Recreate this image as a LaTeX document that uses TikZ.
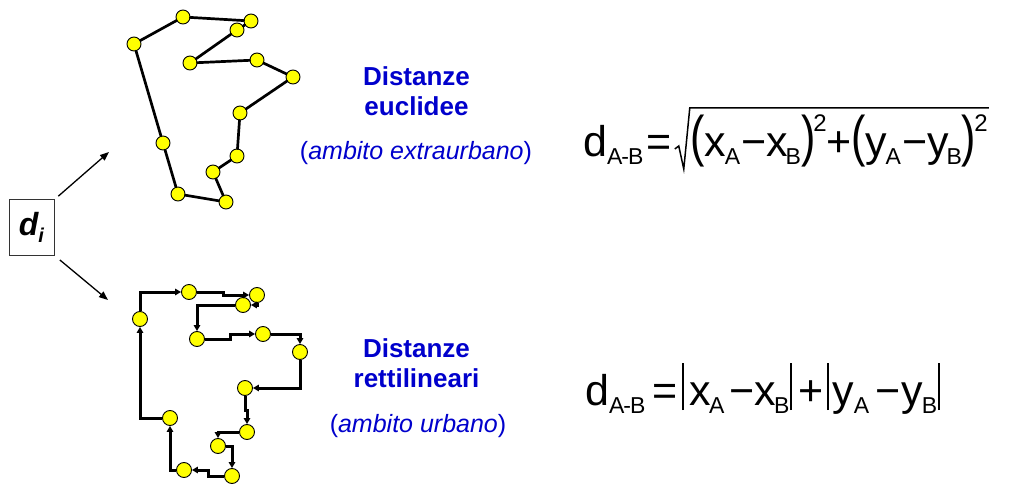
\documentclass[tikz,border=0pt]{standalone}
\usepackage{fontspec}
\setmainfont{Liberation Sans}
\usepackage{graphicx}
\usetikzlibrary{arrows.meta,positioning,calc}
\definecolor{LabelBlue}{HTML}{0000CC}
\definecolor{TownYellow}{HTML}{FFFF00}
\definecolor{BoxGrey}{HTML}{333333}
\newcommand{\fsub}[1]{\raisebox{-8pt}{\fontsize{23}{23}\selectfont #1}}
\newcommand{\fsup}[1]{\raisebox{25pt}{\fontsize{24}{24}\selectfont #1}}
\newcommand{\fpar}[1]{\raisebox{1pt}{\scalebox{1}[1.3]{#1}}}
\newcommand{\fbar}{\rule[-5pt]{2pt}{47pt}}
\tikzset{
    % yellow stops of the two tours
    town/.style={
        circle,
        draw=black,
        line width=0.9pt,
        fill=TownYellow,
        minimum size=14pt,
        inner sep=0pt
    },
    town big/.style={
        town,
        minimum size=15pt
    },
    euclid link/.style={
        line width=2.7pt,
        line join=round,
        line cap=round
    },
    grid link/.style={
        -{Triangle[length=6pt,width=6.5pt]},
        line width=3pt
    },
    split arrow/.style={
        -{Triangle[length=9pt,width=7pt]},
        line width=1.3pt
    },
    kind box/.style={
        rectangle,
        draw=BoxGrey,
        line width=1pt,
        minimum width=45pt,
        minimum height=55pt,
        inner sep=0pt
    },
    kind title/.style={
        font=\fontsize{26}{30}\selectfont\bfseries,
        text=LabelBlue,
        align=center,
        inner sep=0pt
    },
    kind note/.style={
        font=\fontsize{25}{30}\selectfont,
        text=LabelBlue,
        inner sep=0pt,
        anchor=base
    },
    formula/.style={
        font=\fontsize{43}{48}\selectfont,
        inner sep=0pt,
        anchor=base west
    },
    root/.style={
        line width=1.5pt,
        line join=miter
    }
}
\begin{document}
\begin{tikzpicture}[x=1pt, y=-1pt]
    \useasboundingbox (0,0) rectangle (1013,484);

    % generic distance
    \node[kind box] (di) at (31.5,227.5) {\fontsize{32}{32}\selectfont\bfseries\itshape d\raisebox{-7pt}{\fontsize{20}{20}\selectfont i}};
    \coordinate (toEuclid) at (109,152);
    \coordinate (toGrid) at (108,300);
    \draw[split arrow, shorten <=5pt] (di.north east) -- (toEuclid);
    \draw[split arrow, shorten <=7pt] (di.south east) -- (toGrid);

    % euclidean tour
    \node[town] (e1) at (183,17) {};
    \node[town] (e2) at (251,21) {};
    \node[town] (e3) at (237,30) {};
    \node[town] (e4) at (190,63) {};
    \node[town] (e5) at (257,60) {};
    \node[town] (e6) at (293,77) {};
    \node[town] (e7) at (240,113) {};
    \node[town] (e8) at (237,156) {};
    \node[town] (e9) at (213,172) {};
    \node[town] (e10) at (226,202) {};
    \node[town] (e11) at (178,194) {};
    \node[town] (e12) at (163,143) {};
    \node[town] (e13) at (134,44) {};
    \draw[euclid link] (e1) -- (e2) -- (e3) -- (e4) -- (e5) -- (e6) -- (e7)
        -- (e8) -- (e9) -- (e10) -- (e11) -- (e12) -- (e13) -- (e1);

    % rectilinear tour
    \node[town big] (r1) at (189,292) {};
    \node[town big] (r2) at (257,295) {};
    \node[town big] (r3) at (243,305) {};
    \node[town big] (r4) at (197,339) {};
    \node[town big] (r5) at (263,334) {};
    \node[town big] (r6) at (300,352) {};
    \node[town big] (r7) at (245,388) {};
    \node[town big] (r8) at (247,432) {};
    \node[town big] (r9) at (218,446) {};
    \node[town big] (r10) at (232,476) {};
    \node[town big] (r11) at (184,470) {};
    \node[town big] (r12) at (170,418) {};
    \node[town big] (r13) at (140,319) {};
    \draw[grid link] (r13) |- (r1);
    \draw[grid link] (r1) -| ($(r1)!.5!(r2)$) |- (r2);
    \draw[grid link] (r2) |- (r3);
    \draw[grid link] (r3) -| (r4);
    \draw[grid link] (r4) -| ($(r4)!.5!(r5)$) |- (r5);
    \draw[grid link] (r5) -| (r6);
    \draw[grid link] (r6) |- (r7);
    \draw[grid link] (r7) |- ($(r7)!.5!(r8)$) -| (r8);
    \draw[grid link] (r8) -| (r9);
    \draw[grid link] (r9) -| (r10);
    \draw[grid link] (r10) -| ($(r10)!.5!(r11)$) |- (r11);
    \draw[grid link] (r11) -| (r12);
    \draw[grid link] (r12) -| (r13);

    % labels
    \node[kind title] (euclidTitle) at (416.5,91) {Distanze\\euclidee};
    \node[kind note] (euclidNote) at (416,160) {(\textit{ambito extraurbano})};
    \node[kind title] (gridTitle) at (416.5,363) {Distanze\\rettilineari};
    \node[kind note] (gridNote) at (418,432) {(\textit{ambito urbano})};

    % formulas
    \node[formula] (euclidLhs) at (583,157) {d\fsub{A\kern-1pt-\kern-1pt B}\kern3pt=};
    \node[formula] (euclidRad) at ($(euclidLhs.base east)+(19,0)$) {\fpar{(}\kern-1pt x\kern-1pt\fsub{A}\kern1pt−x\kern-2pt\fsub{B}\fpar{)}\kern-2pt\fsup{2}+\fpar{(}\kern-1pt y\kern-1pt\fsub{A}\kern1pt−y\kern-2pt\fsub{B}\fpar{)}\kern-2pt\fsup{2}};
    \draw[root] ($(euclidRad.base west)+(-16,-8)$) -- ++(4,-3)
        -- ($(euclidRad.base west)+(-7,12)$) -- ($(euclidRad.base west)+(-1,-49)$)
        -- ($(euclidRad.base east)+(1,-49)$);
    \node[formula] (gridFormula) at (585,405) {d\fsub{A\kern-1pt-\kern-1pt B}\kern7pt=\kern4pt\fbar\kern6pt x\kern-2pt\fsub{A}\kern5pt−x\kern-2pt\fsub{B}\kern1pt\fbar\kern6pt+\kern4pt\fbar\kern3pt y\fsub{A}\kern6pt−\kern1pt y\kern-1pt\fsub{B}\kern1pt\fbar};
\end{tikzpicture}
\end{document}
